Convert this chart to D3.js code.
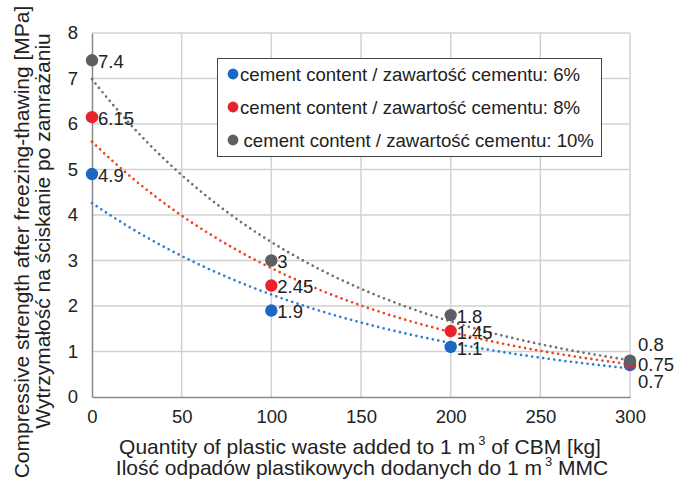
<!DOCTYPE html>
<html>
<head>
<meta charset="utf-8">
<script src="https://cdn.jsdelivr.net/npm/d3@7"></script>
<style>
  html, body { margin: 0; padding: 0; background: #fff; }
  svg text { font-family: "Liberation Sans", Arial, sans-serif; fill: #222; }
</style>
</head>
<body>
<svg id="chart" width="674" height="480"></svg>
<script>
// Plastic waste quantity (kg per 1 m3)
const wasteKg = [0, 100, 200, 300];
// Compressive strength after freezing-thawing [MPa]
const cement6 = [4.9, 1.9, 1.1, 0.7];
const cement8 = [6.15, 2.45, 1.45, 0.75];
const cement10 = [7.4, 3, 1.8, 0.8];
const seriesNames = [
  "cement content / zawartość cementu: 6%",
  "cement content / zawartość cementu: 8%",
  "cement content / zawartość cementu: 10%"
];
const xTicks = [0, 50, 100, 150, 200, 250, 300];
const yTicks = [0, 1, 2, 3, 4, 5, 6, 7, 8];

const pointColors = ["#1a67c4", "#e8232b", "#5b6162"];
const trendColors = ["#2b7fd2", "#f2401c", "#6e6e6e"];

const svg = d3.select("#chart");
const m = { left: 92, right: 44, top: 33, bottom: 83 };
const W = 674, H = 480;

const x = d3.scaleLinear().domain([0, 300]).range([m.left, W - m.right]);
const y = d3.scaleLinear().domain([0, 8]).range([H - m.bottom, m.top]);

// gridlines
const grid = svg.append("g");
grid.selectAll("line.v").data(xTicks.slice(1)).join("line")
  .attr("x1", d => x(d)).attr("x2", d => x(d))
  .attr("y1", y(0)).attr("y2", y(8))
  .attr("stroke", "#d2d2d2").attr("stroke-width", 1.5);
grid.selectAll("line.h").data(yTicks.slice(1)).join("line")
  .attr("x1", x(0)).attr("x2", x(300))
  .attr("y1", d => y(d)).attr("y2", d => y(d))
  .attr("stroke", "#d2d2d2").attr("stroke-width", 1.5);

// axes
const xAxis = svg.append("g").attr("transform", `translate(0,${y(0)})`)
  .call(d3.axisBottom(x).tickValues(xTicks).tickSize(0).tickPadding(13));
const yAxis = svg.append("g").attr("transform", `translate(${x(0)},0)`)
  .call(d3.axisLeft(y).tickValues(yTicks).tickSize(0).tickPadding(14));
[xAxis, yAxis].forEach(a => {
  a.select(".domain").attr("stroke", "#8a8a8a").attr("stroke-width", 1.5);
  a.selectAll("text").attr("font-size", 18.5).attr("fill", "#222")
    .attr("font-family", "Liberation Sans, Arial, sans-serif");
});

// exponential least-squares trendline y = a*exp(b*x)
function expFit(xs, ys) {
  const n = xs.length;
  const ly = ys.map(v => Math.log(v));
  const mx = d3.mean(xs), my = d3.mean(ly);
  let sxy = 0, sxx = 0;
  for (let i = 0; i < n; i++) { sxy += (xs[i] - mx) * (ly[i] - my); sxx += (xs[i] - mx) ** 2; }
  const b = sxy / sxx;
  const a = Math.exp(my - b * mx);
  return v => a * Math.exp(b * v);
}

const allSeries = [cement6, cement8, cement10];
const line = d3.line().x(d => x(d[0])).y(d => y(d[1]));
allSeries.forEach((vals, i) => {
  const f = expFit(wasteKg, vals);
  const pts = d3.range(0, 301, 2).map(v => [v, f(v)]);
  svg.append("path").datum(pts)
    .attr("d", line)
    .attr("fill", "none")
    .attr("stroke", trendColors[i])
    .attr("stroke-width", 2.7)
    .attr("stroke-linecap", "round")
    .attr("stroke-dasharray", "0,5.6");
});

// points
allSeries.forEach((vals, i) => {
  svg.append("g").selectAll("circle").data(vals).join("circle")
    .attr("cx", (d, j) => x(wasteKg[j]))
    .attr("cy", d => y(d))
    .attr("r", 6.2)
    .attr("fill", pointColors[i]);
});

// value labels (the three end values at 300 kg are spread vertically)
const endShift = [16, 1, -16];
allSeries.forEach((vals, i) => {
  svg.append("g").selectAll("text").data(vals).join("text")
    .attr("x", (d, j) => x(wasteKg[j]) + (j === 3 ? 8 : 6))
    .attr("y", (d, j) => y(d) + (j === 3 ? endShift[i] : 1))
    .attr("dy", "0.36em")
    .attr("font-size", 18.5)
    .attr("fill", "#222")
    .text(d => d);
});

// legend
const lg = svg.append("g");
lg.append("rect").attr("x", 217.5).attr("y", 58.5).attr("width", 384).attr("height", 98)
  .attr("fill", "#fff").attr("stroke", "#444").attr("stroke-width", 1);
seriesNames.forEach((name, i) => {
  const cy = 74 + i * 33;
  lg.append("circle").attr("cx", 233).attr("cy", cy).attr("r", 5.4).attr("fill", pointColors[i]);
  lg.append("text").attr("x", i === 2 ? 243.5 : 240).attr("y", cy).attr("dy", "0.36em")
    .attr("font-size", 18.6).text(name);
});

// axis titles
svg.append("text").attr("transform", "translate(29,242) rotate(-90)")
  .attr("text-anchor", "middle").attr("font-size", 21)
  .text("Compressive strength after freezing-thawing [MPa]");
svg.append("text").attr("transform", "translate(50,231) rotate(-90)")
  .attr("text-anchor", "middle").attr("font-size", 21)
  .text("Wytrzymałość na ściskanie po zamrażaniu");

const xt1 = svg.append("text").attr("x", 360).attr("y", 454).attr("text-anchor", "middle").attr("font-size", 21);
xt1.append("tspan").text("Quantity of plastic waste added to 1 m");
xt1.append("tspan").attr("font-size", 13).attr("dy", -9).attr("dx", 3).text("3");
xt1.append("tspan").attr("dy", 9).text(" of CBM [kg]");
const xt2 = svg.append("text").attr("x", 362).attr("y", 475).attr("text-anchor", "middle").attr("font-size", 21);
xt2.append("tspan").text("Ilość odpadów plastikowych dodanych do 1 m");
xt2.append("tspan").attr("font-size", 13).attr("dy", -9).attr("dx", 3).text("3");
xt2.append("tspan").attr("dy", 9).text(" MMC");
</script>
</body>
</html>
